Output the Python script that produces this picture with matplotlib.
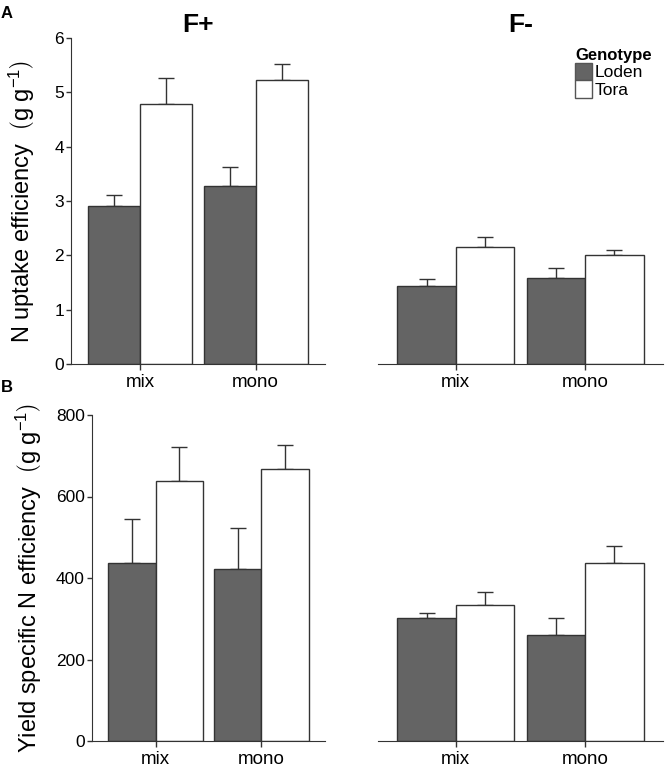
import numpy as np
import matplotlib.pyplot as plt
from matplotlib.patches import Patch

plt.rcParams['font.family'] = ['Liberation Sans', 'DejaVu Sans']
plt.rcParams['mathtext.fontset'] = 'custom'
plt.rcParams['mathtext.rm'] = 'Liberation Sans'
plt.rcParams['mathtext.it'] = 'Liberation Sans:italic'

# data
groups = ['mix', 'mono']
genotypes = ['Loden', 'Tora']
colors = ['#646464', 'white']

# N uptake efficiency (g g-1)
nup_fplus = {'Loden': [2.90, 3.27], 'Tora': [4.78, 5.23]}
nup_fplus_err = {'Loden': [0.21, 0.35], 'Tora': [0.49, 0.30]}
nup_fminus = {'Loden': [1.44, 1.58], 'Tora': [2.15, 2.01]}
nup_fminus_err = {'Loden': [0.12, 0.18], 'Tora': [0.18, 0.08]}

# yield specific N efficiency (g g-1)
yse_fplus = {'Loden': [438, 422], 'Tora': [639, 668]}
yse_fplus_err = {'Loden': [107, 101], 'Tora': [83, 59]}
yse_fminus = {'Loden': [301, 260], 'Tora': [334, 436]}
yse_fminus_err = {'Loden': [14, 41], 'Tora': [31, 43]}

W, H = 666, 767
fig = plt.figure(figsize=(W / 100, H / 100), dpi=100)


def make_ax(x0, x1, ytop, ybot):
    return fig.add_axes([x0 / W, 1 - ybot / H, (x1 - x0) / W, (ybot - ytop) / H])


ax_a1 = make_ax(71, 325, 38, 364)
ax_a2 = make_ax(378, 663, 38, 364)
ax_b1 = make_ax(92, 325, 415, 741)
ax_b2 = make_ax(378, 663, 415, 741)

x = np.arange(len(groups))
w = 0.45
edge = '#333333'


def draw(ax, vals, errs, ylim, yticks, show_y):
    for i, g in enumerate(genotypes):
        pos = x - w / 2 + i * w
        ax.bar(pos, vals[g], width=w, color=colors[i], edgecolor=edge,
               linewidth=1.0, zorder=2)
        ax.errorbar(pos, vals[g], yerr=[np.zeros(len(groups)), errs[g]],
                    fmt='none', ecolor=edge, elinewidth=1.0, capsize=6,
                    capthick=1.0, zorder=1)
    ax.set_xlim(-0.6, 1.6)
    ax.set_ylim(*ylim)
    ax.set_xticks(x)
    ax.set_xticklabels(groups, fontsize=13.5)
    for s in ['top', 'right']:
        ax.spines[s].set_visible(False)
    ax.spines['bottom'].set_color(edge)
    ax.spines['left'].set_color(edge)
    ax.tick_params(axis='x', length=4, width=1, color=edge, pad=3)
    ax.tick_params(axis='y', length=3.6, width=1, color=edge, pad=1.5,
                   labelsize=12.5)
    if show_y:
        ax.set_yticks(yticks)
    else:
        ax.spines['left'].set_visible(False)
        ax.set_yticks([])


draw(ax_a1, nup_fplus, nup_fplus_err, (0, 6), range(0, 7), True)
draw(ax_a2, nup_fminus, nup_fminus_err, (0, 6), range(0, 7), False)
draw(ax_b1, yse_fplus, yse_fplus_err, (0, 800), range(0, 801, 200), True)
draw(ax_b2, yse_fminus, yse_fminus_err, (0, 800), range(0, 801, 200), False)

ax_a1.set_title('F+', fontsize=19, fontweight='bold', pad=4)
ax_a2.set_title('F-', fontsize=19, fontweight='bold', pad=4)

fig.text(22 / W, 1 - 202 / H, r'N uptake efficiency  $\left(\mathrm{g\ g^{-1}}\right)$',
         rotation=90, ha='center', va='center', fontsize=17)
fig.text(29 / W, 1 - 578 / H, r'Yield specific N efficiency  $\left(\mathrm{g\ g^{-1}}\right)$',
         rotation=90, ha='center', va='center', fontsize=17)

fig.text(1 / W, 1 - 14 / H, 'A', fontsize=12, fontweight='bold', va='center')
fig.text(1 / W, 1 - 388 / H, 'B', fontsize=12, fontweight='bold', va='center')

handles = [Patch(facecolor=colors[i], edgecolor='#555555', linewidth=1.0)
           for i in range(len(genotypes))]
leg = fig.legend(handles, genotypes, loc='upper left',
                 bbox_to_anchor=(575 / W, 1 - 48 / H), frameon=False,
                 fontsize=12.5, title='Genotype', alignment='left',
                 title_fontproperties={'weight': 'bold', 'size': 12},
                 borderpad=0, borderaxespad=0, handlelength=1.0,
                 handleheight=1.15, handletextpad=0.15, labelspacing=0.0)

fig.savefig('out.png', dpi=100)
